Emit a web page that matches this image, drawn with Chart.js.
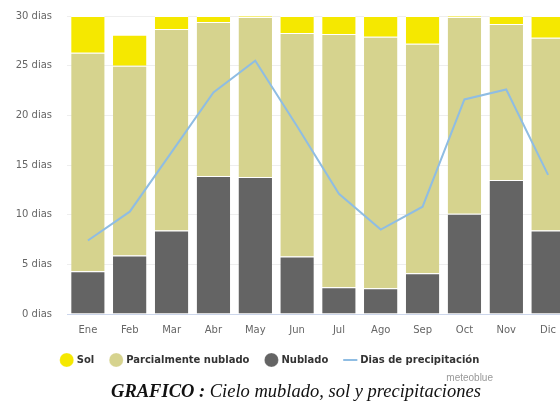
<!DOCTYPE html>
<html>
<head>
<meta charset="utf-8">
<script src="https://cdn.jsdelivr.net/npm/chart.js@4"></script>
<style>
  html, body { margin: 0; padding: 0; background: #fff; overflow: hidden; width: 560px; height: 403px; }
  #wrap { position: absolute; left: 0; top: 0; width: 580px; height: 375px; }
  #credit { position: absolute; left: 430px; top: 372px; width: 63px; text-align: right;
    font: 10px "Liberation Sans", sans-serif; color: #999; }
  #caption { position: absolute; left: 0; top: 381px; width: 592px; text-align: center;
    font: italic 18.5px "Liberation Serif", serif; color: #111; }
  #caption b { font-weight: bold; }
</style>
</head>
<body>
<div id="wrap"><canvas id="cieloChart"></canvas></div>
<div id="credit">meteoblue</div>
<div id="caption"><b>GRAFICO :</b> Cielo mublado, sol y precipitaciones</div>
<script>
const meses = ['Ene', 'Feb', 'Mar', 'Abr', 'May', 'Jun', 'Jul', 'Ago', 'Sep', 'Oct', 'Nov', 'Dic'];
const nublado = [4.3, 5.9, 8.4, 13.9, 13.8, 5.8, 2.7, 2.6, 4.1, 10.1, 13.5, 8.4];
const parcial = [22.0, 19.1, 20.3, 15.5, 16.1, 22.5, 25.5, 25.3, 23.1, 19.8, 15.7, 19.4];
const sol = [3.7, 3.1, 1.3, 0.6, 0.1, 1.7, 1.8, 2.1, 2.8, 0.1, 0.8, 2.2];
const precipitacion = [7.4, 10.3, 16.3, 22.3, 25.5, 18.9, 12.1, 8.5, 10.8, 21.6, 22.6, 14.0];
const yTicks = [0, 5, 10, 15, 20, 25, 30];

// legend shows Sol first, stacking keeps Nublado at the bottom
const legendRank = [2, 1, 0, 3];

// the canvas is wider than the page (Dic is cut off), so pull the legend back to the visible centre
const legendShift = {
  id: 'legendShift',
  afterLayout(chart) {
    chart.legend.left -= 14;
    chart.legend.right -= 14;
  }
};

const ctx = document.getElementById('cieloChart').getContext('2d');
new Chart(ctx, {
  type: 'bar',
  data: {
    labels: meses,
    datasets: [
      { label: 'Nublado', data: nublado, backgroundColor: '#646464', stack: 'cielo', order: 1 },
      { label: 'Parcialmente nublado', data: parcial, backgroundColor: '#d6d38e', stack: 'cielo', order: 1 },
      { label: 'Sol', data: sol, backgroundColor: '#f5e800', stack: 'cielo', order: 1 },
      {
        type: 'line', label: 'Dias de precipitación', data: precipitacion, stack: 'precip', order: 0,
        borderColor: '#8fbde3', backgroundColor: '#8fbde3', borderWidth: 2,
        pointRadius: 0, pointStyle: 'line', tension: 0
      }
    ]
  },
  plugins: [legendShift],
  options: {
    responsive: true,
    maintainAspectRatio: false,
    animation: false,
    layout: { padding: { top: 16, right: 11, bottom: 0, left: 0 } },
    datasets: {
      bar: { categoryPercentage: 0.8, barPercentage: 1.0, borderColor: '#ffffff', borderWidth: { top: 1 }, borderSkipped: false }
    },
    plugins: {
      legend: {
        position: 'bottom',
        labels: {
          usePointStyle: true,
          boxWidth: 10,
          boxHeight: 10,
          padding: 17,
          color: '#333',
          font: { family: 'DejaVu Sans', size: 10, weight: 'bold' },
          sort: (a, b) => legendRank[a.datasetIndex] - legendRank[b.datasetIndex]
        }
      },
      tooltip: { enabled: false }
    },
    scales: {
      x: {
        stacked: true,
        grid: { display: false },
        border: { color: '#ccd6eb' },
        afterFit: scale => { scale.height = 24; },
        ticks: { color: '#666', font: { family: 'DejaVu Sans', size: 10 }, padding: 2 }
      },
      y: {
        stacked: true,
        min: 0,
        max: 30,
        afterBuildTicks: scale => { scale.ticks = yTicks.map(v => ({ value: v })); },
        afterFit: scale => {
          scale.width = 67;
          scale.paddingTop = 6;
          scale.paddingBottom = 6;
        },
        grid: { color: '#eeeeee', drawTicks: false },
        border: { display: false },
        ticks: {
          color: '#666',
          padding: 15,
          font: { family: 'DejaVu Sans', size: 10 },
          callback: v => v + ' dias'
        }
      }
    }
  }
});
</script>
</body>
</html>
